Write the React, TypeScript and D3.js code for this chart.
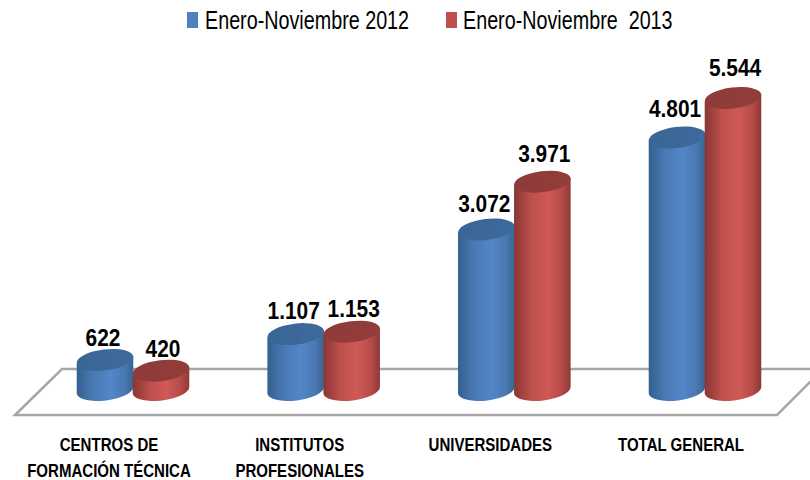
import React from 'react';
import * as d3 from 'd3';

const categories = [
  ['CENTROS DE', 'FORMACIÓN TÉCNICA'],
  ['INSTITUTOS', 'PROFESIONALES'],
  ['UNIVERSIDADES'],
  ['TOTAL GENERAL'],
];
const seriesNames = ['Enero-Noviembre 2012', 'Enero-Noviembre  2013'];
const values2012 = [622, 1107, 3072, 4801];
const values2013 = [420, 1153, 3971, 5544];
const labels2012 = ['622', '1.107', '3.072', '4.801'];
const labels2013 = ['420', '1.153', '3.971', '5.544'];

const W = 810;
const H = 480;
const baseY = 390;
const rx = 28.5;
const ry = 10.5;
const tilt = -7;
const font = '"Liberation Sans", sans-serif';

const x0 = d3.scalePoint<number>().domain([0, 1, 2, 3]).range([133, 705]);
const x1 = d3.scaleBand<number>().domain([0, 1]).range([-56, 56]);
const y = d3.scaleLinear().domain([0, 5544]).range([393, 98]);
// value labels climb a little faster than the cylinder tops
const yLabel = d3.scaleLinear().domain([0, 5544]).range([380, 76]);

// no narrow font installed, so squeeze the text horizontally
const Narrow = ({ x, y, k = 0.87, anchor = 'middle', size, bold, children }: any) => (
  <text
    transform={`translate(${x},${y}) scale(${k},1)`}
    textAnchor={anchor}
    fontFamily={font}
    fontSize={size}
    fontWeight={bold ? 'bold' : 'normal'}
    fill="#000"
    xmlSpace="preserve"
  >
    {children}
  </text>
);

// body of one tilted cylinder, from the base ellipse up to the top one
const cylinderPath = (cx: number, top: number) => {
  const rad = (tilt * Math.PI) / 180;
  const dx = rx * Math.cos(rad);
  const dy = rx * Math.sin(rad);
  const p = d3.path();
  p.moveTo(cx - dx, top - dy);
  p.lineTo(cx - dx, baseY - dy);
  const arc = `A${rx},${ry} ${tilt} 0 0 ${cx + dx},${baseY + dy}`;
  return `${p.toString()}${arc}L${cx + dx},${top + dy}Z`;
};

const Cylinder = ({ i, s, value }: { i: number; s: number; value: number }) => {
  const cx = (x0(i) as number) + (x1(s) as number) + x1.bandwidth() / 2;
  const top = y(value);
  return (
    <g>
      <path d={cylinderPath(cx, top)} fill={`url(#body-${s})`} />
      <ellipse cx={cx} cy={top} rx={rx} ry={ry} transform={`rotate(${tilt} ${cx} ${top})`} fill={`url(#cap-${s})`} />
    </g>
  );
};

const App = () => {
  return (
    <svg width={W} height={H} style={{ position: 'absolute', left: 0, top: 0 }}>
      <defs>
        <linearGradient id="body-0" x1="0" y1="0" x2="1" y2="0">
          <stop offset="0%" stopColor="#35608f" />
          <stop offset="30%" stopColor="#4a7ab5" />
          <stop offset="60%" stopColor="#5286c8" />
          <stop offset="85%" stopColor="#4a78b0" />
          <stop offset="100%" stopColor="#386493" />
        </linearGradient>
        <linearGradient id="body-1" x1="0" y1="0" x2="1" y2="0">
          <stop offset="0%" stopColor="#8a3633" />
          <stop offset="30%" stopColor="#bd4f4c" />
          <stop offset="60%" stopColor="#cf5a57" />
          <stop offset="85%" stopColor="#b54a47" />
          <stop offset="100%" stopColor="#8d3937" />
        </linearGradient>
        <linearGradient id="cap-0" x1="0" y1="0" x2="1" y2="0">
          <stop offset="0%" stopColor="#3a6696" />
          <stop offset="100%" stopColor="#3d6a9c" />
        </linearGradient>
        <linearGradient id="cap-1" x1="0" y1="0" x2="1" y2="0">
          <stop offset="0%" stopColor="#8f3b39" />
          <stop offset="100%" stopColor="#933d3a" />
        </linearGradient>
      </defs>

      <polyline points="832,369 62,369 15,415 777,415 832,360" fill="none" stroke="#a6a6a6" strokeWidth={2.5} />

      {categories.map((_, i) => (
        <g key={i}>
          <Cylinder i={i} s={0} value={values2012[i]} />
          <Cylinder i={i} s={1} value={values2013[i]} />
        </g>
      ))}

      {categories.map((_, i) => (
        <g key={i}>
          <Narrow x={(x0(i) as number) - 30} y={yLabel(values2012[i])} size={24} bold>{labels2012[i]}</Narrow>
          <Narrow x={(x0(i) as number) + 30} y={yLabel(values2013[i])} size={24} bold>{labels2013[i]}</Narrow>
        </g>
      ))}

      {categories.map((lines, i) =>
        lines.map((line, j) => (
          <Narrow key={line} x={(x0(i) as number) - 24} y={451 + j * 26} size={18} k={0.835} bold>{line}</Narrow>
        ))
      )}

      <rect x={187} y={12} width={11} height={16} fill="#4f81bd" />
      <Narrow x={205} y={29} size={25} k={0.79} anchor="start">{seriesNames[0]}</Narrow>
      <rect x={446} y={12} width={11} height={16} fill="#c0504d" />
      <Narrow x={463} y={29} size={25} k={0.79} anchor="start">{seriesNames[1]}</Narrow>
    </svg>
  );
};

export default App;
